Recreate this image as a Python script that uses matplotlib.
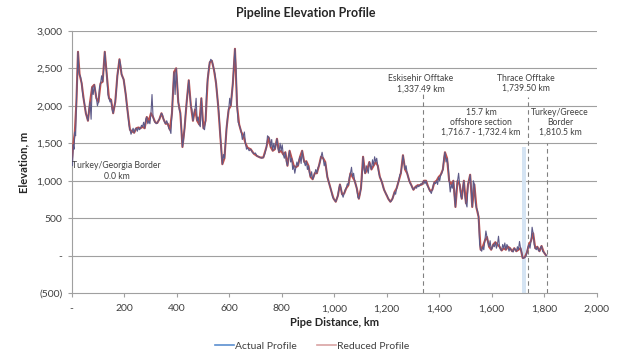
import numpy as np
import matplotlib.pyplot as plt
from matplotlib.lines import Line2D
from matplotlib.ticker import FuncFormatter

plt.rcParams['font.family'] = ['Lato', 'DejaVu Sans']

# elevation profile along the route (km, m)
distance_km = [
    0, 3, 6, 9, 12, 15, 18, 21, 24, 27, 30, 34, 38, 42, 46, 50, 54, 58, 62, 66,
    70, 74, 78, 82, 86, 90, 94, 98, 102, 106, 110, 114, 118, 122, 126, 130, 134, 138, 142, 146,
    150, 154, 158, 162, 166, 170, 174, 178, 182, 186, 190, 194, 198, 202, 206, 210, 214, 218, 222, 226,
    230, 234, 238, 242, 246, 250, 254, 258, 262, 266, 270, 274, 278, 282, 286, 290, 294, 298, 302, 306,
    310, 314, 318, 322, 326, 330, 334, 338, 342, 346, 350, 354, 358, 362, 366, 370, 374, 378, 382, 386,
    390, 394, 398, 402, 406, 410, 414, 418, 422, 426, 430, 434, 438, 442, 446, 450, 454, 458, 462, 466,
    470, 474, 478, 482, 486, 490, 494, 498, 502, 506, 510, 514, 518, 522, 526, 530, 534, 538, 542, 546,
    550, 554, 558, 562, 566, 570, 574, 578, 582, 586, 590, 594, 598, 602, 606, 610, 614, 618, 622, 626,
    630, 634, 638, 642, 646, 650, 654, 658, 662, 666, 670, 676, 682, 688, 694, 700, 706, 712, 718, 724,
    730, 736, 742, 746, 750, 754, 758, 762, 766, 770, 774, 778, 782, 786, 790, 794, 798, 802, 806, 810,
    814, 818, 822, 826, 830, 834, 838, 842, 846, 850, 854, 858, 862, 866, 870, 874, 878, 882, 886, 890,
    894, 898, 902, 906, 910, 914, 918, 922, 926, 930, 934, 938, 942, 946, 950, 954, 958, 962, 966, 970,
    974, 978, 982, 986, 990, 994, 998, 1002, 1006, 1010, 1014, 1018, 1022, 1026, 1030, 1034, 1038, 1042, 1046, 1050,
    1054, 1058, 1062, 1066, 1070, 1074, 1078, 1082, 1086, 1090, 1094, 1098, 1102, 1106, 1110, 1114, 1118, 1122, 1126, 1130,
    1134, 1138, 1142, 1146, 1150, 1154, 1158, 1162, 1166, 1170, 1174, 1178, 1182, 1186, 1190, 1194, 1198, 1202, 1206, 1210,
    1214, 1218, 1222, 1226, 1230, 1234, 1238, 1242, 1246, 1250, 1254, 1258, 1262, 1266, 1270, 1274, 1278, 1282, 1286, 1290,
    1294, 1298, 1302, 1306, 1310, 1314, 1318, 1322, 1326, 1330, 1334, 1338, 1342, 1346, 1350, 1354, 1358, 1362, 1366, 1370,
    1374, 1378, 1382, 1386, 1390, 1394, 1398, 1402, 1406, 1410, 1414, 1418, 1422, 1426, 1430, 1434, 1438, 1442, 1446, 1450,
    1454, 1458, 1462, 1466, 1470, 1474, 1478, 1482, 1486, 1490, 1494, 1498, 1502, 1506, 1510, 1514, 1518, 1522, 1526, 1530,
    1534, 1538, 1542, 1546, 1550, 1554, 1558, 1562, 1566, 1570, 1574, 1578, 1582, 1586, 1590, 1594, 1598, 1602, 1606, 1610,
    1614, 1618, 1622, 1626, 1630, 1634, 1638, 1642, 1646, 1650, 1654, 1658, 1662, 1666, 1670, 1674, 1678, 1682, 1686, 1690,
    1694, 1698, 1702, 1706, 1710, 1714, 1718, 1722, 1726, 1730, 1734, 1738, 1742, 1746, 1750, 1754, 1758, 1762, 1766, 1770,
    1774, 1778, 1782, 1786, 1790, 1794, 1798, 1802, 1806, 1810,
]
elevation_m = [
    1250, 1200, 1480, 1420, 1650, 1600, 2050, 2350, 2720, 2500, 2420, 2380, 2300, 2150, 2080, 2000, 1900, 1850, 1800, 1950,
    2050, 1820, 2250, 2150, 2280, 2200, 2100, 2000, 2050, 2250, 2300, 2400, 2320, 2500, 2720, 2550, 2400, 2150, 2100, 2050,
    2080, 1950, 1900, 1980, 2050, 2200, 2400, 2500, 2620, 2550, 2420, 2380, 2350, 2250, 2150, 2000, 1900, 1750, 1680, 1620,
    1660, 1700, 1640, 1690, 1700, 1660, 1710, 1680, 1700, 1740, 1720, 1780, 1700, 1820, 1850, 1760, 1800, 1760, 1900, 2150,
    1850, 1800, 1780, 1760, 1770, 1800, 1820, 1860, 1900, 1880, 1820, 1780, 1760, 1800, 1760, 1700, 1680, 1630, 1900, 2200,
    2450, 2150, 2500, 2300, 2050, 1950, 1900, 1700, 1450, 1550, 1700, 1900, 2050, 2200, 2340, 2150, 2000, 1950, 1800, 1900,
    1950, 2100, 1800, 1850, 1750, 1720, 2100, 1800, 1700, 1680, 1800, 2200, 2350, 2500, 2580, 2620, 2600, 2550, 2480, 2420,
    2300, 2150, 2000, 1850, 1600, 1400, 1220, 1350, 1300, 1500, 1700, 1850, 1950, 2100, 2000, 2150, 2300, 2550, 2760, 2500,
    2000, 1780, 1750, 1700, 1650, 1550, 1600, 1650, 1500, 1420, 1440, 1400, 1420, 1380, 1360, 1370, 1330, 1320, 1310, 1300,
    1310, 1360, 1450, 1600, 1580, 1560, 1450, 1550, 1400, 1500, 1420, 1480, 1560, 1430, 1380, 1500, 1400, 1480, 1350, 1300,
    1380, 1250, 1200, 1300, 1400, 1250, 1300, 1150, 1200, 1100, 1180, 1250, 1200, 1280, 1320, 1230, 1400, 1300, 1250, 1200,
    1260, 1150, 1200, 1100, 1050, 1120, 1020, 1050, 1100, 1150, 1100, 1170, 1200, 1250, 1320, 1380, 1300, 1200, 1250, 1150,
    1050, 1000, 950, 900, 850, 780, 760, 740, 720, 760, 800, 900, 950, 900, 820, 780, 830, 880, 900, 960,
    940, 1050, 1100, 1180, 1050, 1100, 1000, 950, 900, 780, 760, 820, 900, 1050, 1320, 1150, 1100, 1200, 1150, 1100,
    1250, 1200, 1150, 1280, 1200, 1320, 1250, 1300, 1200, 1100, 1050, 1020, 980, 920, 880, 850, 820, 800, 760, 740,
    720, 730, 760, 800, 850, 820, 900, 950, 1000, 1080, 1100, 1200, 1340, 1250, 1150, 1200, 1100, 1050, 1000, 960,
    940, 900, 880, 900, 920, 900, 940, 920, 940, 960, 950, 980, 1000, 960, 1000, 940, 920, 880, 860, 830,
    880, 950, 980, 960, 1000, 950, 1050, 1000, 1080, 1100, 1150, 1300, 1380, 1250, 1300, 1200, 1000, 850, 950, 900,
    1000, 800, 650, 900, 1000, 1100, 950, 800, 760, 900, 1000, 800, 700, 650, 950, 1000, 1080, 900, 650, 1000,
    950, 700, 640, 600, 520, 150, 80, 60, 120, 80, 200, 330, 250, 180, 120, 200, 80, 100, 150, 120,
    180, 100, 150, 260, 120, 80, 70, 150, 100, 170, 80, 150, 120, 60, 100, 80, 60, 50, 100, 80,
    60, 120, 80, 190, 100, 50, -30, -35, -20, -10, 40, 110, 150, 100, 200, 380, 300, 150, 100, 80,
    120, 70, 60, 110, 130, 60, 50, 30, 10, 0,
]

# route markers
eskisehir_km = 1337.49
thrace_km = 1739.50
greece_border_km = 1810.5
offshore_start_km = 1716.7
offshore_end_km = 1732.4

x_ticks = list(range(0, 2001, 200))
y_ticks = list(range(-500, 3001, 500))

dist = np.array(distance_km)
elev = np.array(elevation_m)

fig = plt.figure(figsize=(6.18, 3.58), dpi=100)
ax = fig.add_axes([0.116, 0.181, 0.8495, 0.733])

grey = '#a0a0a0'
text_col = '#404040'

for y in y_ticks[1:]:
    ax.axhline(y, color=grey, lw=0.8, zorder=0)

# offshore section band
ax.fill_between([offshore_start_km, offshore_end_km], -500, 1450,
                color='#d5e4f3', lw=0, zorder=1)

# marker lines
for km, top in [(eskisehir_km, 2170), (thrace_km, 2120), (greece_border_km, 1500)]:
    ax.plot([km, km], [-500, top], color='#808080', lw=0.8, ls=(0, (4, 3)), zorder=2)

# reduced profile keeps every second survey point
ax.plot(dist[::2], elev[::2], color='#c0504d', lw=1.5, zorder=3)
ax.plot(dist, elev, color='#5d5a88', lw=0.8, zorder=4)

ax.set_xlim(0, 2000)
ax.set_ylim(-500, 3000)
ax.set_xticks(x_ticks)
ax.set_yticks(y_ticks)


def num_fmt(v, pos):
    if v == 0:
        return '-'
    if v < 0:
        return '({:,.0f})'.format(-v)
    return '{:,.0f}'.format(v)


ax.xaxis.set_major_formatter(FuncFormatter(num_fmt))
ax.yaxis.set_major_formatter(FuncFormatter(num_fmt))
ax.tick_params(axis='both', labelsize=7.5, colors=grey, labelcolor=text_col, length=3, width=0.8)
ax.tick_params(axis='x', pad=5)

for s in ['top', 'right']:
    ax.spines[s].set_visible(False)
for s in ['left', 'bottom']:
    ax.spines[s].set_color(grey)
    ax.spines[s].set_linewidth(0.8)

ax.set_xlabel('Pipe Distance, km', fontsize=8, fontweight='bold', color='#262626', labelpad=3)
ax.set_ylabel('Elevation, m', fontsize=8, fontweight='bold', color='#262626', labelpad=5)
fig.text(0.494, 0.965, 'Pipeline Elevation Profile', ha='center', va='center',
         fontsize=9, fontweight='bold', color='#262626')

notes = [
    (171, 1130, 'Turkey/Georgia Border\n0.0 km'),
    (1330, 2290, 'Eskisehir Offtake\n1,337.49 km'),
    (1729, 2300, 'Thrace Offtake\n1,739.50 km'),
    (1559, 1780, '15.7 km\noffshore section\n1,716.7 - 1,732.4 km'),
    (1860, 1780, 'Turkey/Greece\nBorder\n1,810.5 km'),
]
for x, y, s in notes:
    ax.text(x, y, s, ha='center', va='center', fontsize=6.2, color=text_col,
            linespacing=1.15, zorder=5)

handles = [Line2D([], [], color='#5b8fd0', lw=1.2),
           Line2D([], [], color='#d9a3a3', lw=1.2)]
fig.legend(handles, ['Actual Profile', 'Reduced Profile'], loc='center',
           bbox_to_anchor=(0.505, 0.033), ncol=2, frameon=False, fontsize=7.5,
           handlelength=1.8, handletextpad=0.1, columnspacing=2.0,
           labelcolor=text_col)

fig.savefig('out.png', dpi=100)
